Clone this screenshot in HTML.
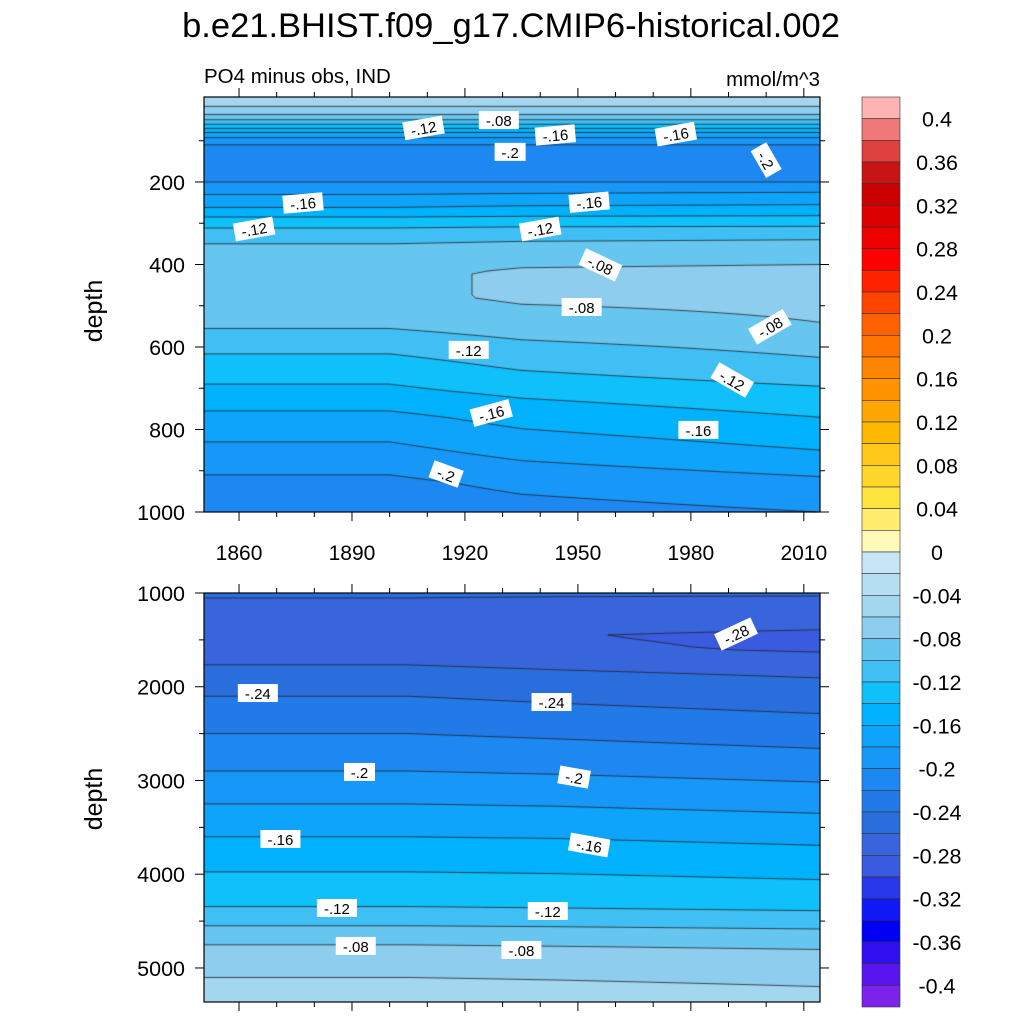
<!DOCTYPE html>
<html><head><meta charset="utf-8">
<style>
body{margin:0;background:#fff;}
#wrap{position:relative;width:1024px;height:1024px;font-family:"Liberation Sans",sans-serif;}
canvas{position:absolute;left:0;top:0;}
svg{position:absolute;left:0;top:0;}
</style></head>
<body>
<div id="wrap">
<canvas id="cv" width="1024" height="1024"></canvas>
<svg id="sv" width="1024" height="1024">
<text x="511" y="37" font-size="34.5" text-anchor="middle">b.e21.BHIST.f09_g17.CMIP6-historical.002</text>
<text x="204" y="83" font-size="20.5">PO4 minus obs, IND</text>
<text x="820" y="86" font-size="20.5" text-anchor="end">mmol/m^3</text>
<text transform="translate(102,311) rotate(-90)" font-size="25" text-anchor="middle">depth</text>
<text transform="translate(102,799) rotate(-90)" font-size="25" text-anchor="middle">depth</text>
<g id="axes"></g>
<g id="cbar"></g>
<g id="labels"></g>
</svg>
</div>
<script>
// ---- data ----
const topYears = [1850, 1900, 1935, 2014];
const topDepths = [0,25,40,55,70,85,100,115,150,190,210,230,255,275,295,320,360,420,480,540,600,650,710,770,850,930,1000];
const topEarly = [-0.05,-0.065,-0.085,-0.11,-0.14,-0.17,-0.19,-0.205,-0.215,-0.205,-0.195,-0.18,-0.165,-0.15,-0.13,-0.115,-0.095,-0.085,-0.085,-0.095,-0.115,-0.13,-0.145,-0.165,-0.185,-0.205,-0.215];
const topMid = [-0.05,-0.065,-0.085,-0.11,-0.14,-0.17,-0.19,-0.205,-0.215,-0.205,-0.195,-0.178,-0.162,-0.147,-0.13,-0.112,-0.092,-0.077,-0.077,-0.088,-0.105,-0.118,-0.136,-0.153,-0.173,-0.195,-0.208];
const topLate = [-0.05,-0.065,-0.085,-0.11,-0.14,-0.17,-0.19,-0.205,-0.215,-0.205,-0.195,-0.175,-0.16,-0.145,-0.13,-0.11,-0.09,-0.075,-0.075,-0.08,-0.095,-0.105,-0.125,-0.14,-0.16,-0.185,-0.2];
const botYears = [1850, 1905, 1945, 2014];
const botDepths = [1000,1080,1300,1450,1600,1750,2100,2900,3600,4350,4750,5100,5363];
const botEarly = [-0.258,-0.261,-0.265,-0.268,-0.266,-0.261,-0.24,-0.2,-0.16,-0.12,-0.08,-0.06,-0.05];
const botMid = [-0.258,-0.262,-0.27,-0.279,-0.276,-0.264,-0.244,-0.202,-0.161,-0.121,-0.081,-0.061,-0.052];
const botLate = [-0.258,-0.263,-0.272,-0.285,-0.283,-0.268,-0.25,-0.207,-0.165,-0.124,-0.083,-0.063,-0.055];
const cbTicks = ["0.4","0.36","0.32","0.28","0.24","0.2","0.16","0.12","0.08","0.04","0","-0.04","-0.08","-0.12","-0.16","-0.2","-0.24","-0.28","-0.32","-0.36","-0.4"];
const contourLabels = [
 ["top",1909,69,"-.12",-10],["top",1929,50,"-.08",0],["top",1944,86,"-.16",-5],["top",1932,127,"-.2",0],
 ["top",1976,84,"-.16",-10],["top",2000,147,"-.2",60],["top",1877,251,"-.16",-5],["top",1864,314,"-.12",-10],
 ["top",1953,249,"-.16",-5],["top",1940,314,"-.12",-10],["top",1956,401,"-.08",25],["top",1951,503,"-.08",0],
 ["top",2001,551,"-.08",-30],["top",1921,607,"-.12",0],["top",1991,680,"-.12",30],["top",1927,760,"-.16",-15],
 ["top",1982,801,"-.16",0],["top",1915,908,"-.2",20],
 ["bot",1992,1437,"-.28",-25],["bot",1865,2067,"-.24",0],["bot",1943,2163,"-.24",0],["bot",1892,2909,"-.2",0],
 ["bot",1949,2963,"-.2",10],["bot",1871,3624,"-.16",0],["bot",1953,3688,"-.16",10],["bot",1886,4360,"-.12",0],
 ["bot",1942,4392,"-.12",0],["bot",1891,4765,"-.08",0],["bot",1935,4808,"-.08",0]
];
// colours from top (>0.4) to bottom (<-0.4), 42 boxes
const cbColors = ["#ffb3b3","#f07878","#de4040","#c81414","#cc0000","#dd0000","#ee0000","#ff0000","#ff2200","#ff4400","#ff6000","#ff7400","#ff8400","#ff9400","#ffa600","#ffb800","#ffc81a","#ffd72a","#ffe440","#ffee70","#fffab8",
 "#c6e6f6","#b5def2","#a3d7ef","#8ecdee","#67c6f0","#40bff5","#0fc0fb","#00b2fd","#0ea4fb","#1797f8","#1e88f2","#2279e8","#2a6edd","#3865dc","#3a5ae0","#2638ea","#1018f5","#0000f5","#3010f0","#5a14f0","#7c22ea"];

// ---- geometry ----
const X0=204,X1=820,YR0=1850.7,YR1=2014.3;
const xs = y => X0+(y-YR0)/(YR1-YR0)*(X1-X0);
const xinv = px => YR0+(px-X0)/(X1-X0)*(YR1-YR0);
const panels = {
 top:{y0:97,y1:512,d0:-6,d1:1000,years:topYears,depths:topDepths,cols:[topEarly,topEarly,topMid,topLate]},
 bot:{y0:593,y1:1002,d0:1000,d1:5363,years:botYears,depths:botDepths,cols:[botEarly,botEarly,botMid,botLate]}
};
for(const k in panels){const p=panels[k];p.ys=d=>p.y0+(d-p.d0)/(p.d1-p.d0)*(p.y1-p.y0);p.yinv=py=>p.d0+(py-p.y0)/(p.y1-p.y0)*(p.d1-p.d0);}
function interp(xa,ya,x){if(x<=xa[0])return ya[0];for(let i=1;i<xa.length;i++){if(x<=xa[i]){const t=(x-xa[i-1])/(xa[i]-xa[i-1]);return ya[i-1]+t*(ya[i]-ya[i-1]);}}return ya[ya.length-1];}
function field(p,yr,d){const vals=p.cols.map(c=>interp(p.depths,c,d));return interp(p.years,vals,yr);}
function colorFor(v){let i=Math.floor((0.42-v)/0.02);i=Math.max(0,Math.min(41,i));return cbColors[i];}
function hex(c){return [parseInt(c.substr(1,2),16),parseInt(c.substr(3,2),16),parseInt(c.substr(5,2),16)];}

const ctx=document.getElementById('cv').getContext('2d');
for(const k in panels){
 const p=panels[k];const w=X1-X0,h=p.y1-p.y0;
 const img=ctx.createImageData(w,h);
 for(let j=0;j<h;j++){const d=p.yinv(p.y0+j+0.5);for(let i=0;i<w;i++){
  const v=field(p,xinv(X0+i+0.5),d);const c=hex(colorFor(v));const o=(j*w+i)*4;
  img.data[o]=c[0];img.data[o+1]=c[1];img.data[o+2]=c[2];img.data[o+3]=255;}}
 ctx.putImageData(img,X0,p.y0);
 const st=3,nx=Math.ceil(w/st),ny=Math.ceil(h/st);const g=[];
 for(let j=0;j<=ny;j++){g.push([]);const py=Math.min(p.y0+j*st,p.y1);const d=p.yinv(py);
  for(let i=0;i<=nx;i++){const px=Math.min(X0+i*st,X1);g[j].push(field(p,xinv(px),d));}}
 ctx.strokeStyle="#222";ctx.lineWidth=0.8;ctx.beginPath();
 for(let L=-0.40;L<0.001;L+=0.02){const lv=Math.round(L*100)/100;
  for(let j=0;j<ny;j++)for(let i=0;i<nx;i++){
   const a=g[j][i],b=g[j][i+1],c=g[j+1][i+1],e=g[j+1][i];
   const xa=X0+i*st,ya=p.y0+j*st,xb=Math.min(xa+st,X1),yb=Math.min(ya+st,p.y1);
   const pts=[];
   const ed=(v1,v2,x1,y1,x2,y2)=>{if((v1-lv)*(v2-lv)<0){const t=(lv-v1)/(v2-v1);pts.push([x1+t*(x2-x1),y1+t*(y2-y1)]);}};
   ed(a,b,xa,ya,xb,ya);ed(b,c,xb,ya,xb,yb);ed(c,e,xb,yb,xa,yb);ed(e,a,xa,yb,xa,ya);
   if(pts.length>=2){ctx.moveTo(pts[0][0],pts[0][1]);ctx.lineTo(pts[1][0],pts[1][1]);}
   if(pts.length===4){ctx.moveTo(pts[2][0],pts[2][1]);ctx.lineTo(pts[3][0],pts[3][1]);}
  }}
 ctx.stroke();
}

// ---- axes ----
const NS="http://www.w3.org/2000/svg";
function mk(tag,attrs,parent){const e=document.createElementNS(NS,tag);for(const a in attrs)e.setAttribute(a,attrs[a]);parent.appendChild(e);return e;}
const ax=document.getElementById('axes');
const xMajor=[1860,1890,1920,1950,1980,2010];
for(const k in panels){const p=panels[k];
 const fr=mk('rect',{x:X0,y:p.y0,width:X1-X0,height:p.y1-p.y0,fill:'none',stroke:'#000','stroke-width':1.2},ax);
 
 for(let yr=1860;yr<=2010;yr+=10){const x=xs(yr);const big=xMajor.includes(yr);const L=big?9:5;
  mk('line',{x1:x,y1:p.y1,x2:x,y2:p.y1+L,stroke:'#000','stroke-width':1},ax);
  mk('line',{x1:x,y1:p.y0,x2:x,y2:p.y0-L,stroke:'#000','stroke-width':1},ax);}
 const maj=k==='top'?[200,400,600,800,1000]:[1000,2000,3000,4000,5000];
 const mstep=k==='top'?100:500;
 for(let d=(k==='top'?100:1000);d<=p.d1;d+=mstep){const y=p.ys(d);const big=maj.includes(d);const L=big?9:5;
  mk('line',{x1:X0,y1:y,x2:X0-L,y2:y,stroke:'#000','stroke-width':1},ax);
  mk('line',{x1:X1,y1:y,x2:X1+L,y2:y,stroke:'#000','stroke-width':1},ax);
  if(big){const t=mk('text',{x:X0-19,y:y+8,'font-size':21.5,'text-anchor':'end'},ax);t.textContent=d;
   }}
}
for(const yr of xMajor){const t=mk('text',{x:xs(yr),y:560,'font-size':21,'text-anchor':'middle'},ax);t.textContent=yr;
 }

// ---- colorbar ----
const cb=document.getElementById('cbar');const CBT=97,CBB=1007,CBX=862,CBW=38;const bh=(CBB-CBT)/42;
cbColors.forEach((c,i)=>{const r=mk('rect',{x:CBX,y:CBT+i*bh,width:CBW,height:bh,fill:c,stroke:'#333','stroke-width':0.6},cb);
 });
cbTicks.forEach((s,i)=>{const y=CBT+(1+i*2)*bh;const t=mk('text',{x:937,y:y+8,'font-size':21.5,'text-anchor':'middle'},cb);t.textContent=s;
 });

// ---- contour labels ----
const lg=document.getElementById('labels');
contourLabels.forEach(l=>{const p=panels[l[0]];const x=xs(l[1]),y=p.ys(l[2]);
 const g=mk('g',{transform:`translate(${x},${y}) rotate(${l[4]})`},lg);
 
 const w=l[3].length*9+4;mk('rect',{x:-w/2,y:-9,width:w,height:18,fill:'#fff'},g);
 const t=mk('text',{x:0,y:6,'font-size':15,'text-anchor':'middle'},g);t.textContent=l[3];});
</script>
</body></html>
